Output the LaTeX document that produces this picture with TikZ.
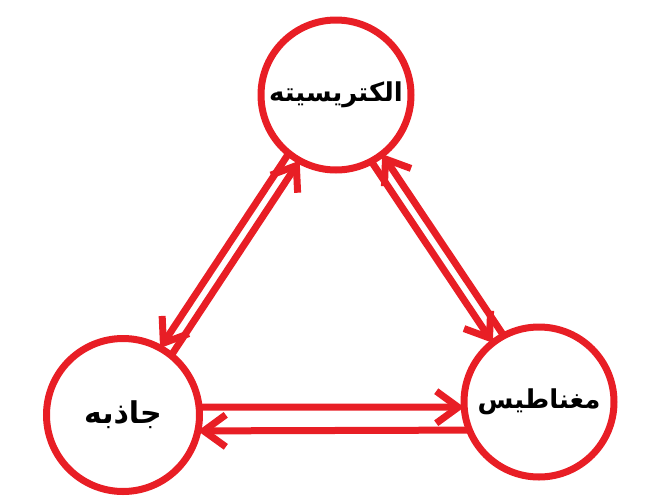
\documentclass[tikz,border=0pt]{standalone}
\usepackage{fontspec}
\newfontfamily\arabicfont[Script=Arabic]{DejaVu Sans}
\TeXXeTstate=1
\usetikzlibrary{arrows.meta}
\definecolor{penred}{RGB}{232,30,37}

\begin{document}
\begin{tikzpicture}[x=1pt, y=-1pt,
  ball/.style={circle, draw=penred, line width=7pt, minimum size=150pt, inner sep=0pt, outer sep=0pt, font=\arabicfont\bfseries\fontsize{26}{30}\selectfont},
  link/.style={draw=penred, line width=7pt, -{Straight Barb[length=22pt, width=32pt]}}]
\useasboundingbox (0,0) rectangle (654,501);
\node[ball] (elec) at (336,95) {\beginR الکتریسیته\endR};
\node[ball, minimum size=153pt, font=\arabicfont\bfseries\fontsize{30}{34}\selectfont] (grav) at (123,415) {\beginR جاذبه\endR};
\node[ball] (magn) at (539,402) {\beginR مغناطیس\endR};
% top - left
\draw[link] (elec.231) -- (grav.61);
\draw[link] (grav.51) -- (elec.241);
% top - right
\draw[link] (elec.298.5) -- (magn.128.5);
\draw[link] (magn.118.5) -- (elec.308.5);
% bottom
\draw[link] (grav.6) -- (magn.184);
\draw[link] (magn.202) -- (grav.348);
\end{tikzpicture}
\end{document}
